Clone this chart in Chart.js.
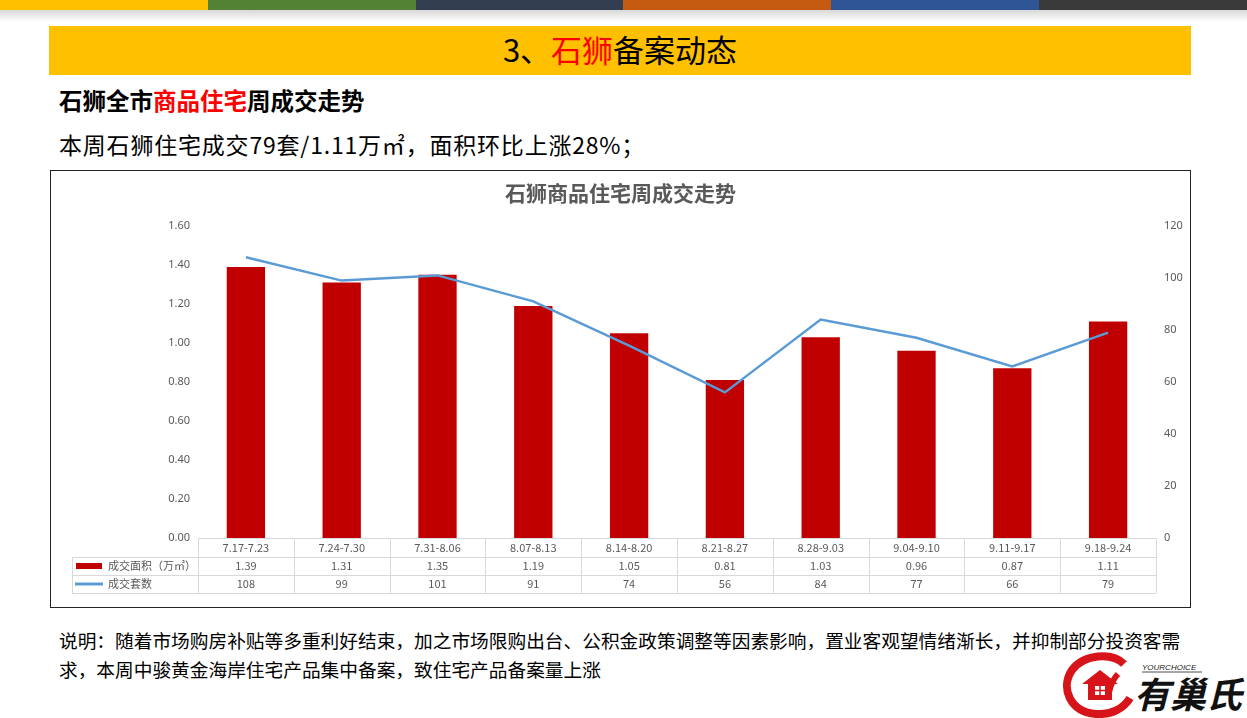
<!DOCTYPE html>
<html>
<head>
<meta charset="utf-8">
<script src="https://cdn.jsdelivr.net/npm/chart.js@4.4.1/dist/chart.umd.min.js"></script>
<style>
  body { margin: 0; width: 1247px; height: 718px; background: #fff; position: relative; overflow: hidden;
         font-family: "Noto Sans CJK SC", "Noto Sans", sans-serif; }
  .stripes { position: absolute; left: 0; top: 0; width: 1247px; height: 10px; display: flex; }
  .stripes div { flex: 1; }
  .shade { position: absolute; left: 0; top: 10px; width: 1247px; height: 12px;
           background: linear-gradient(#d8d8d8, rgba(255,255,255,0)); }
  .banner { position: absolute; left: 49px; top: 26px; width: 1142px; height: 49px; background: #FFC000;
            text-align: center; font-size: 31px; line-height: 46px; color: #000; }
  .red { color: #FF0000; }
  .h1 { position: absolute; left: 59px; top: 83px; font-size: 23.5px; font-weight: bold; white-space: nowrap; }
  .h2 { position: absolute; left: 59px; top: 127px; font-size: 23px; letter-spacing: 0.8px; white-space: nowrap; }
  .box { position: absolute; left: 50px; top: 170px; width: 1139px; height: 436px; border: 1px solid #222; }
  .box canvas { position: absolute; left: 0; top: 0; }
  .note { position: absolute; left: 59px; top: 625px; font-size: 18.7px; line-height: 29px; white-space: nowrap; color: #000; }
  .logo { position: absolute; left: 1062px; top: 650px; }
</style>
</head>
<body>
<div class="stripes">
  <div style="background:#FFC000"></div><div style="background:#548235"></div><div style="background:#333F50"></div>
  <div style="background:#C55A11"></div><div style="background:#2F5597"></div><div style="background:#3A3A3A"></div>
</div>
<div class="shade"></div>
<div class="banner">3、<span class="red">石狮</span>备案动态</div>
<div class="h1">石狮全市<span class="red">商品住宅</span>周成交走势</div>
<div class="h2">本周石狮住宅成交79套/1.11万㎡，面积环比上涨28%；</div>
<div class="box"><canvas id="chart" width="1139" height="436"></canvas></div>
<div class="note">说明：随着市场购房补贴等多重利好结束，加之市场限购出台、公积金政策调整等因素影响，置业客观望情绪渐长，并抑制部分投资客需<br>求，本周中骏黄金海岸住宅产品集中备案，致住宅产品备案量上涨</div>
<svg class="logo" width="185" height="68" viewBox="0 0 185 68">
  <path d="M62 14 C50 2 22 4 10 20 C-2 38 8 62 34 64 C50 65 62 58 68 48" fill="none" stroke="#D7141A" stroke-width="8"/>
  <path d="M56 24 C50 30 46 42 46 50" fill="none" stroke="#D7141A" stroke-width="6"/>
  <path d="M20 34 L38 20 L56 34 L50 34 L50 50 L26 50 L26 34 Z" fill="#D7141A"/>
  <rect x="33" y="36" width="10" height="9" fill="#fff"/>
  <line x1="38" y1="36" x2="38" y2="45" stroke="#D7141A" stroke-width="1.5"/>
  <line x1="33" y1="40.5" x2="43" y2="40.5" stroke="#D7141A" stroke-width="1.5"/>
  <text x="80" y="20" font-size="8" font-style="italic" font-family="Liberation Sans" fill="#222">YOURCHOICE</text>
  <line x1="80" y1="22" x2="140" y2="22" stroke="#222" stroke-width="0.8"/>
  <text x="72" y="58" font-size="36" font-weight="bold" font-style="italic" font-family="Noto Sans CJK SC" fill="#111">有巢氏</text>
</svg>

<script>
var weeks = ['7.17-7.23', '7.24-7.30', '7.31-8.06', '8.07-8.13', '8.14-8.20',
             '8.21-8.27', '8.28-9.03', '9.04-9.10', '9.11-9.17', '9.18-9.24'];
var areaValues = [1.39, 1.31, 1.35, 1.19, 1.05, 0.81, 1.03, 0.96, 0.87, 1.11];
var unitValues = [108, 99, 101, 91, 74, 56, 84, 77, 66, 79];
var areaLabel = '成交面积（万㎡）';
var unitLabel = '成交套数';
var chartTitle = '石狮商品住宅周成交走势';

var barColor = '#C00000';
var lineColor = '#5B9BD5';
var textGray = '#595959';
var gridGray = '#D9D9D9';

// data table under the x axis, like the Excel chart
var tablePlugin = {
  id: 'dataTable',
  afterDraw: function(chart) {
    var ctx = chart.ctx;
    var x = chart.scales.x;
    var area = chart.chartArea;
    var n = weeks.length;
    var w = (area.right - area.left) / n;
    var r0 = area.bottom, r1 = r0 + 19, r2 = r1 + 18, r3 = r2 + 18;
    var leftCol = 21;

    ctx.save();
    ctx.strokeStyle = gridGray;
    ctx.lineWidth = 1;
    ctx.beginPath();
    ctx.moveTo(area.left, r0 + 0.5); ctx.lineTo(area.right, r0 + 0.5);
    [r1, r2, r3].forEach(function(y) {
      ctx.moveTo(leftCol, y + 0.5); ctx.lineTo(area.right, y + 0.5);
    });
    for (var i = 0; i <= n; i++) {
      var xx = Math.round(area.left + i * w) + 0.5;
      ctx.moveTo(xx, r0); ctx.lineTo(xx, r3);
    }
    ctx.moveTo(leftCol + 0.5, r1); ctx.lineTo(leftCol + 0.5, r3);
    ctx.stroke();

    ctx.font = '11px "Noto Sans CJK SC", "Noto Sans", sans-serif';
    ctx.fillStyle = textGray;
    ctx.textAlign = 'center';
    ctx.textBaseline = 'middle';
    for (var j = 0; j < n; j++) {
      var cx = x.getPixelForValue(j);
      ctx.fillText(weeks[j], cx, (r0 + r1) / 2);
      ctx.fillText(areaValues[j].toFixed(2), cx, (r1 + r2) / 2);
      ctx.fillText(String(unitValues[j]), cx, (r2 + r3) / 2);
    }

    // legend keys in the first column
    ctx.fillStyle = barColor;
    ctx.fillRect(leftCol + 4, (r1 + r2) / 2 - 3, 26, 6);
    ctx.strokeStyle = lineColor;
    ctx.lineWidth = 3;
    ctx.beginPath();
    ctx.moveTo(leftCol + 3, (r2 + r3) / 2); ctx.lineTo(leftCol + 31, (r2 + r3) / 2);
    ctx.stroke();
    ctx.fillStyle = textGray;
    ctx.textAlign = 'left';
    ctx.fillText(areaLabel, leftCol + 36, (r1 + r2) / 2);
    ctx.fillText(unitLabel, leftCol + 36, (r2 + r3) / 2);
    ctx.restore();
  }
};

new Chart(document.getElementById('chart'), {
  data: {
    labels: weeks,
    datasets: [{
      type: 'line',
      label: unitLabel,
      data: unitValues,
      yAxisID: 'y1',
      borderColor: lineColor,
      borderWidth: 2.5,
      pointRadius: 0,
      tension: 0,
      order: 0
    }, {
      type: 'bar',
      label: areaLabel,
      data: areaValues,
      yAxisID: 'y',
      backgroundColor: barColor,
      categoryPercentage: 1,
      barPercentage: 0.4,
      order: 1
    }]
  },
  plugins: [tablePlugin],
  options: {
    responsive: false,
    animation: false,
    layout: { padding: 0 },
    plugins: {
      legend: { display: false },
      tooltip: { enabled: false },
      title: {
        display: true,
        text: chartTitle,
        color: textGray,
        font: { size: 21, weight: 'bold', family: '"Noto Sans CJK SC", sans-serif' },
        padding: { top: 9, bottom: 20.8 }
      }
    },
    scales: {
      x: {
        ticks: { display: false },
        grid: { display: false },
        border: { display: false },
        afterFit: function(s) { s.height = 69; }
      },
      y: {
        position: 'left',
        min: 0, max: 1.6,
        ticks: {
          stepSize: 0.2,
          padding: 8,
          color: textGray,
          font: { size: 11, family: '"Noto Sans", sans-serif' },
          callback: function(v) { return v.toFixed(2); }
        },
        grid: { display: false, drawTicks: false },
        border: { display: false },
        afterFit: function(s) { s.width = 147; }
      },
      y1: {
        position: 'right',
        min: 0, max: 120,
        ticks: {
          stepSize: 20,
          padding: 8,
          color: textGray,
          font: { size: 11, family: '"Noto Sans", sans-serif' }
        },
        grid: { display: false, drawTicks: false },
        border: { display: false },
        afterFit: function(s) { s.width = 34; }
      }
    }
  }
});
</script>
</body>
</html>
